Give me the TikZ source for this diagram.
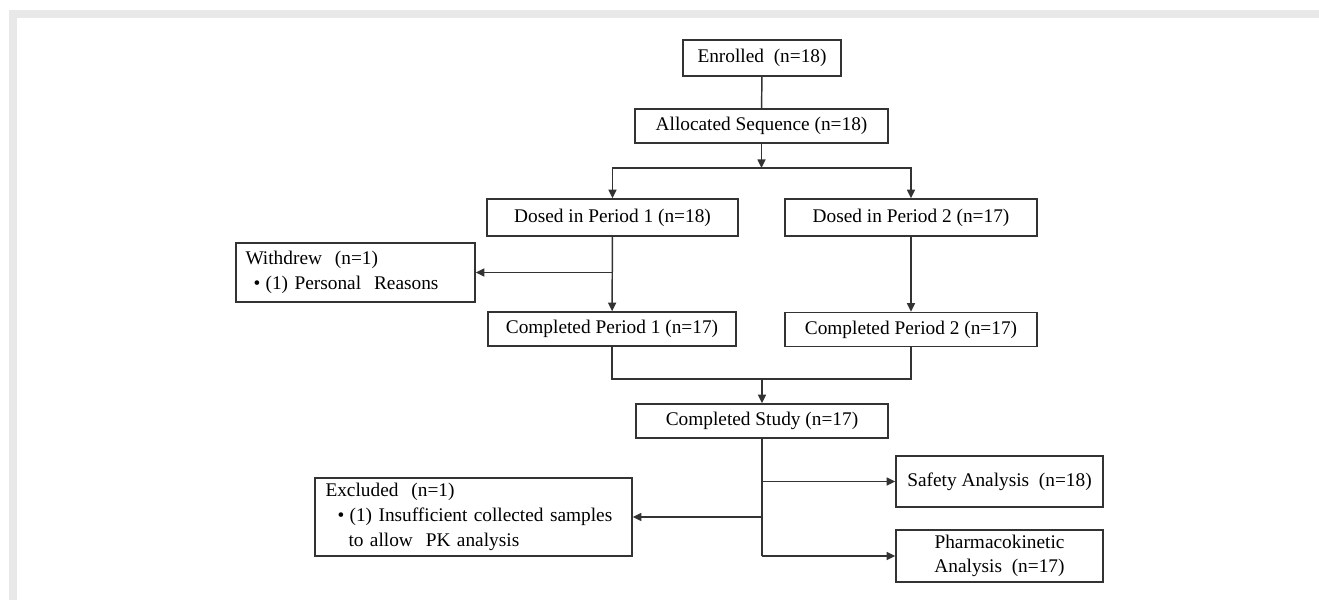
\documentclass[tikz,border=0pt]{standalone}
\usepackage{fontspec}
\setmainfont{Liberation Serif}
\usetikzlibrary{arrows.meta}

\definecolor{framegray}{HTML}{E8E8E8}
\tikzset{
  box/.style={draw=black!80, line width=1.1pt, inner sep=0pt, fill=white},
  link/.style={draw=black!80, line width=1.1pt},
  arr/.style={link, -{Triangle[length=6.5pt,width=6pt]}}
}

\begin{document}
\begin{tikzpicture}[x=0.75pt, y=-0.75pt]

  \useasboundingbox (0,0) rectangle (1319,600);
  \fill[framegray] (9,10) rectangle (1319,18);
  \fill[framegray] (9,10) rectangle (17,600);

  \fontsize{14.5}{18.5}\selectfont

  % boxes
  \node[box, minimum width=118.5pt, minimum height=27pt]
    (enrol) at (762,58) {Enrolled\ \ (n=18)};
  \node[box, minimum width=189.75pt, minimum height=25.5pt]
    (alloc) at (761.5,126) {Allocated Sequence (n=18)};
  \node[box, minimum width=188.25pt, minimum height=27.75pt]
    (dose1) at (612.5,217.5) {Dosed in Period 1 (n=18)};
  \node[box, minimum width=189pt, minimum height=27.75pt]
    (dose2) at (911,217.5) {Dosed in Period 2 (n=17)};
  \node[box, minimum width=179.25pt, minimum height=44.25pt,
        text width=165pt, align=left]
    (withdrew) at (355.5,272.5)
    {Withdrew\ \ (n=1)\\\hspace*{6pt}\textbullet\hspace{4pt}(1) Personal\ \ Reasons};
  \node[box, minimum width=186pt, minimum height=25.5pt]
    (comp1) at (612,329) {Completed Period 1 (n=17)};
  \node[box, minimum width=189pt, minimum height=25.5pt]
    (comp2) at (911,329.5) {Completed Period 2 (n=17)};
  \node[box, minimum width=189pt, minimum height=25.5pt]
    (study) at (762,421) {Completed Study (n=17)};
  \node[box, minimum width=237.75pt, minimum height=58.5pt,
        text width=222pt, align=left]
    (excl) at (473.5,517)
    {Excluded\ \ (n=1)\\\hspace*{9pt}\textbullet\hspace{4pt}\makebox[195.75pt][s]{(1) Insufficient collected samples}\\\hspace*{17.25pt}to allow\ \ PK analysis};
  \node[box, minimum width=155.25pt, minimum height=38.25pt]
    (safety) at (999.5,481.5) {Safety Analysis\ \ (n=18)};
  \node[box, minimum width=155.25pt, minimum height=39pt, align=center]
    (pk) at (999.5,556) {Pharmacokinetic\\Analysis\ \ (n=17)};

  % connectors
  \coordinate (split) at (alloc.south |- 0,168);
  \coordinate (merge) at (study.north |- 0,379);
  \coordinate (drop) at (dose1.south |- withdrew.east);

  \draw[link] (enrol) -- (alloc);
  \draw[arr] (alloc) -- (split);
  \draw[arr] (split) -| (dose1);
  \draw[arr] (split) -| (dose2);
  \draw[arr] (dose1) -- (comp1);
  \draw[arr] (drop) -- (withdrew);
  \draw[arr] (dose2) -- (comp2);
  \draw[link] (comp1) |- (merge) -| (comp2);
  \draw[arr] (merge) -- (study);
  \draw[link] (study) -- (study.south |- pk.west);
  \draw[arr] (study.south |- safety.west) -- (safety);
  \draw[arr] (study.south |- excl.east) -- (excl);
  \draw[arr] (study.south |- pk.west) -- (pk);

\end{tikzpicture}
\end{document}
